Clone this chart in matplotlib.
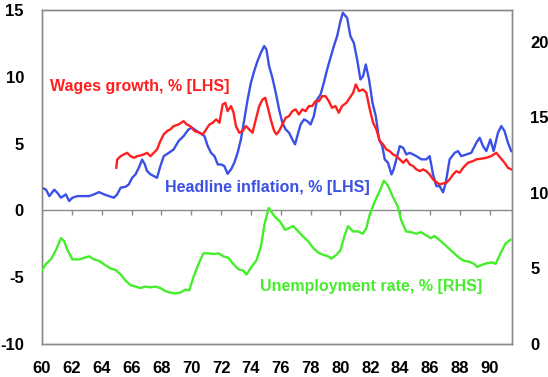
import matplotlib
matplotlib.use("Agg")
import matplotlib.pyplot as plt

# ---- data ----
infl_years = [60.0, 60.27, 60.49, 60.82, 61.04, 61.27, 61.6, 61.82, 62.04, 62.38, 62.71, 63.16, 63.49, 63.82,
              64.16, 64.49, 64.82, 65.04, 65.27, 65.6, 65.82, 66.04, 66.27, 66.49, 66.71, 66.89, 67.04, 67.27,
              67.49, 67.71, 67.93, 68.16, 68.49, 68.82, 69.16, 69.49, 69.82, 70.04, 70.22, 70.56, 70.89, 71.11,
              71.33, 71.56, 71.78, 72.0, 72.22, 72.44, 72.67, 72.89, 73.11, 73.33, 73.56, 73.78, 74.0, 74.22,
              74.44, 74.67, 74.89, 75.04, 75.22, 75.44, 75.67, 75.89, 76.11, 76.33, 76.56, 76.78, 76.96, 77.11,
              77.33, 77.56, 77.78, 78.0, 78.22, 78.44, 78.67, 78.89, 79.11, 79.33, 79.56, 79.78, 80.0, 80.16,
              80.45, 80.67, 80.9, 81.12, 81.34, 81.52, 81.7, 81.92, 82.15, 82.37, 82.59, 82.81, 82.97, 83.19,
              83.42, 83.57, 83.75, 83.98, 84.2, 84.42, 84.65, 84.87, 85.09, 85.43, 85.76, 85.98, 86.21, 86.43,
              86.65, 86.88, 87.06, 87.32, 87.66, 87.88, 88.1, 88.44, 88.77, 89.11, 89.33, 89.56, 89.78, 90.05,
              90.27, 90.56, 90.78, 91.0, 91.23, 91.45]
infl_rate = [1.7, 1.55, 1.07, 1.55, 1.3, 0.95, 1.2, 0.7, 0.95, 1.07, 1.07, 1.07, 1.2, 1.37,
             1.2, 1.07, 0.95, 1.2, 1.7, 1.77, 1.95, 2.44, 2.7, 3.2, 3.8, 3.45, 2.95, 2.7,
             2.57, 2.44, 3.3, 4.06, 4.3, 4.56, 5.2, 5.56, 6.06, 6.2, 6.06, 5.81, 5.56, 4.81,
             4.31, 4.06, 3.44, 3.44, 3.32, 2.74, 3.07, 3.57, 4.31, 5.31, 6.81, 8.3, 9.55, 10.42,
             11.17, 11.8, 12.3, 12.05, 10.8, 9.93, 8.8, 7.56, 6.56, 6.06, 5.81, 5.31, 4.94, 5.56,
             6.43, 6.81, 6.68, 6.43, 7.06, 8.3, 8.68, 9.55, 10.55, 11.42, 12.3, 13.04, 14.16, 14.79,
             14.41, 13.04, 12.54, 11.3, 9.8, 10.05, 10.92, 9.8, 8.05, 7.06, 5.31, 4.81, 3.82, 3.57,
             2.69, 3.07, 3.82, 4.81, 4.69, 4.19, 4.31, 4.19, 4.06, 3.82, 3.82, 4.06, 2.69, 1.82,
             1.82, 1.35, 2.07, 3.82, 4.31, 4.44, 4.06, 4.19, 4.31, 5.06, 5.44, 4.81, 4.44, 5.31,
             4.44, 5.81, 6.31, 5.94, 5.06, 4.44]

wage_years = [64.98, 65.04, 65.27, 65.49, 65.71, 65.93, 66.16, 66.38, 66.6, 66.82, 67.04, 67.27, 67.49,
              67.71, 67.93, 68.16, 68.38, 68.6, 68.82, 69.16, 69.49, 69.71, 69.93, 70.22, 70.56, 70.78,
              71.0, 71.22, 71.44, 71.67, 71.89, 72.11, 72.29, 72.44, 72.67, 72.84, 73.0, 73.22, 73.44,
              73.67, 73.89, 74.11, 74.33, 74.56, 74.78, 74.96, 75.11, 75.33, 75.56, 75.71, 75.89, 76.11,
              76.33, 76.56, 76.78, 77.0, 77.22, 77.44, 77.67, 77.89, 78.11, 78.33, 78.56, 78.78, 79.0,
              79.22, 79.44, 79.67, 79.89, 80.11, 80.4, 80.85, 81.03, 81.25, 81.52, 81.74, 81.97, 82.19,
              82.41, 82.64, 82.86, 83.08, 83.3, 83.53, 83.75, 83.98, 84.2, 84.42, 84.65, 84.87, 85.09,
              85.32, 85.54, 85.76, 85.98, 86.21, 86.43, 86.65, 86.88, 87.1, 87.32, 87.55, 87.77, 87.99,
              88.22, 88.55, 88.89, 89.11, 89.44, 89.78, 90.11, 90.45, 90.72, 91.0, 91.23, 91.45]
wage_growth = [3.19, 3.8, 4.06, 4.19, 4.31, 4.06, 3.94, 4.06, 4.11, 4.19, 4.31, 4.06, 4.31,
               4.56, 5.19, 5.69, 5.94, 6.06, 6.31, 6.43, 6.68, 6.43, 6.31, 5.94, 5.81, 5.69,
               6.06, 6.43, 6.56, 6.81, 6.56, 7.93, 8.05, 7.43, 7.81, 7.31, 6.31, 5.81, 5.94,
               6.31, 6.06, 5.81, 6.81, 7.81, 8.3, 8.43, 7.81, 6.81, 5.94, 5.69, 5.94, 6.43,
               6.93, 7.06, 7.43, 7.56, 7.18, 7.56, 7.43, 7.81, 7.81, 8.18, 8.18, 8.55, 8.55,
               8.18, 7.68, 7.81, 7.31, 7.81, 8.05, 8.8, 9.43, 8.93, 9.05, 8.8, 7.56, 6.56,
               6.06, 5.19, 4.94, 4.56, 4.44, 4.19, 4.06, 3.82, 3.57, 3.82, 3.44, 3.32, 3.07,
               2.94, 3.07, 2.94, 2.69, 2.32, 2.12, 1.95, 2.02, 2.07, 2.32, 2.69, 2.94, 2.82,
               3.19, 3.57, 3.69, 3.82, 3.87, 3.94, 4.06, 4.31, 3.94, 3.57, 3.19, 3.07]

unemp_years = [60.0, 60.27, 60.6, 60.93, 61.27, 61.49, 61.71, 62.04, 62.49, 62.82, 63.16, 63.49, 63.82,
               64.27, 64.6, 64.93, 65.27, 65.6, 65.93, 66.27, 66.6, 66.93, 67.27, 67.6, 67.93, 68.27,
               68.6, 68.93, 69.27, 69.6, 69.87, 70.16, 70.49, 70.82, 71.16, 71.49, 71.82, 72.16, 72.49,
               72.82, 73.16, 73.49, 73.71, 74.04, 74.38, 74.67, 74.93, 75.2, 75.62, 75.96, 76.29, 76.51,
               76.84, 77.18, 77.51, 77.84, 78.18, 78.51, 78.84, 79.18, 79.4, 79.73, 80.0, 80.29, 80.51,
               80.84, 81.18, 81.51, 81.73, 81.96, 82.29, 82.62, 82.91, 83.18, 83.51, 83.84, 84.07, 84.4,
               84.73, 85.07, 85.4, 85.73, 86.07, 86.29, 86.62, 86.96, 87.29, 87.62, 87.96, 88.29, 88.62,
               88.96, 89.18, 89.51, 89.84, 90.18, 90.4, 90.73, 91.07, 91.4]
unemp_rate = [4.9, 5.3, 5.6, 6.2, 7.0, 6.8, 6.2, 5.6, 5.6, 5.7, 5.8, 5.6, 5.5,
              5.2, 5.0, 4.9, 4.6, 4.2, 3.9, 3.8, 3.7, 3.8, 3.75, 3.8, 3.7, 3.5,
              3.4, 3.35, 3.4, 3.6, 3.55, 4.45, 5.3, 6.0, 6.0, 5.95, 6.0, 5.8, 5.7,
              5.3, 4.95, 4.85, 4.6, 5.1, 5.55, 6.45, 8.0, 9.0, 8.4, 8.1, 7.55, 7.65,
              7.8, 7.45, 7.1, 6.8, 6.35, 6.05, 5.9, 5.8, 5.65, 5.9, 6.2, 7.2, 7.8,
              7.45, 7.45, 7.3, 7.65, 8.55, 9.4, 10.1, 10.8, 10.5, 9.75, 9.1, 8.2, 7.45,
              7.4, 7.3, 7.4, 7.2, 7.0, 7.15, 6.9, 6.6, 6.3, 6.0, 5.7, 5.5, 5.45,
              5.3, 5.1, 5.25, 5.35, 5.4, 5.3, 6.0, 6.65, 6.9]

x_ticks = list(range(60, 91, 2))
left_ticks = [-10, -5, 0, 5, 10, 15]
right_ticks = [0, 5, 10, 15, 20]

RED = "#ff1f1f"
BLUE = "#3a50e6"
GREEN = "#44ee2a"
FONT = "Liberation Sans"

plt.rcParams['font.family'] = [FONT, 'DejaVu Sans']

fig = plt.figure(figsize=(5.48, 3.77), dpi=100)
ax = fig.add_axes([42/548, 33/377, 470/548, 334/377])
ax2 = ax.twinx()

ax.plot(infl_years, infl_rate, color=BLUE, lw=1.7, zorder=3)
ax.plot(wage_years, wage_growth, color=RED, lw=1.7, zorder=4)
ax2.plot(unemp_years, unemp_rate, color=GREEN, lw=1.7, zorder=3)

ax.set_xlim(60, 91.5)
ax.set_ylim(-10, 15)
ax2.set_ylim(0, 22.1)

# zero line with small downward ticks
ax.axhline(0, color="#8a8a8a", lw=1.0, zorder=2)
ax.vlines(x_ticks, -0.32, 0, color="#8a8a8a", lw=1.0, zorder=2)

ax.set_xticks(x_ticks)
ax.set_xticklabels([str(t) for t in x_ticks], fontsize=12, fontweight="bold")
ax.set_yticks(left_ticks)
ax.set_yticklabels([str(t) for t in left_ticks], fontsize=12, fontweight="bold")
ax2.set_yticks(right_ticks)
ax2.set_yticklabels([str(t) for t in right_ticks], fontsize=12, fontweight="bold")

ax.tick_params(axis="x", length=0, pad=12)
ax.tick_params(axis="y", length=0, pad=13)
ax2.tick_params(axis="y", length=0, pad=13)

for a in (ax, ax2):
    for s in a.spines.values():
        s.set_color("#8a8a8a")
        s.set_linewidth(1.0)

ax.text(60.55, 8.93, "Wages growth, % [LHS]", color=RED, fontsize=11.5,
        fontweight="bold", va="baseline", ha="left", zorder=5)
ax.text(68.25, 1.37, "Headline inflation, % [LHS]", color=BLUE, fontsize=11.5,
        fontweight="bold", va="baseline", ha="left", zorder=5)
ax.text(74.6, -6.02, "Unemployment rate, % [RHS]", color=GREEN, fontsize=11.5,
        fontweight="bold", va="baseline", ha="left", zorder=5)

fig.savefig("out.png", dpi=100)
